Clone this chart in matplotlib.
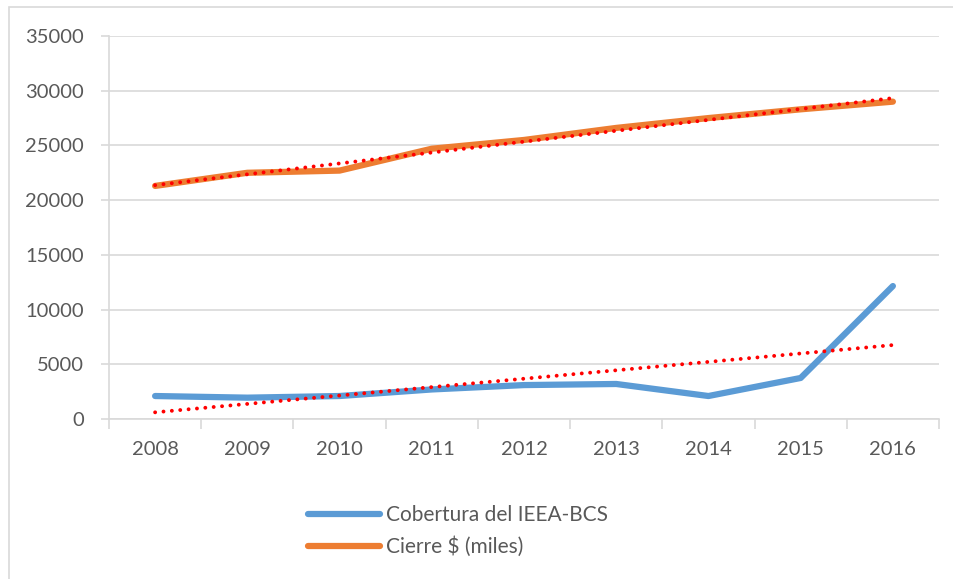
import numpy as np
import matplotlib
matplotlib.use("Agg")
import matplotlib.pyplot as plt
from matplotlib.patches import Rectangle
from matplotlib.ticker import MultipleLocator, FixedLocator

plt.rcParams['font.family'] = ['Lato', 'DejaVu Sans']

years = ['2008', '2009', '2010', '2011', '2012', '2013', '2014', '2015', '2016']
cobertura = [2100, 1950, 2100, 2700, 3100, 3200, 2100, 3750, 12150]
cierre = [21300, 22500, 22700, 24700, 25500, 26600, 27500, 28300, 29000]
series_names = ['Cobertura del IEEA-BCS', 'Cierre $ (miles)']

W, H = 954, 579
fig = plt.figure(figsize=(W / 100, H / 100), dpi=100)
fig.patch.set_facecolor('white')

# chart-area border (runs past the right and bottom edges)
fig.patches.append(Rectangle((9 / W, -0.2), 1.2, 1.2 - 7 / H,
                             transform=fig.transFigure, fill=False,
                             edgecolor='#D9D9D9', linewidth=1.2))

ax = fig.add_axes([109 / W, 1 - 419 / H, (939 - 109) / W, (419 - 36) / H])
x = np.arange(len(years))

grey = '#D9D9D9'
text_col = '#595959'

ax.set_xlim(-0.5, len(years) - 0.5)
ax.set_ylim(0, 35000)
ax.yaxis.set_major_locator(MultipleLocator(5000))
ax.grid(axis='y', color=grey, linewidth=1.2)
ax.set_axisbelow(True)

for s in ['top', 'right']:
    ax.spines[s].set_visible(False)
for s in ['left', 'bottom']:
    ax.spines[s].set_color(grey)
    ax.spines[s].set_linewidth(1.2)

ax.set_xticks(x)
ax.set_xticklabels(years)
ax.xaxis.set_minor_locator(FixedLocator(np.arange(-0.5, len(years), 1.0)))
ax.tick_params(axis='x', which='major', length=0, pad=16, labelsize=14.5, labelcolor=text_col)
ax.tick_params(axis='x', which='minor', length=7, width=1.2, color=grey)
ax.tick_params(axis='y', which='major', length=6, width=1.2, color=grey, pad=12,
               labelsize=14.5, labelcolor=text_col)

blue = '#5B9BD5'
orange = '#ED7D31'

l1, = ax.plot(x, cobertura, color=blue, linewidth=4.5, solid_capstyle='round',
              solid_joinstyle='round', label=series_names[0], zorder=3)
l2, = ax.plot(x, cierre, color=orange, linewidth=4.5, solid_capstyle='round',
              solid_joinstyle='round', label=series_names[1], zorder=3)

# linear trendlines
for vals in (cobertura, cierre):
    k, b = np.polyfit(x, vals, 1)
    ax.plot(x, k * x + b, color='#FF0000', linewidth=2.8,
            linestyle=(0, (0.01, 2.15)), dash_capstyle='round', zorder=4)

leg = fig.legend(handles=[l1, l2], loc='upper left',
                 bbox_to_anchor=(308 / W, 1 - 505 / H), frameon=False,
                 fontsize=15, handlelength=3.45, handletextpad=0.3,
                 labelspacing=0.55, borderpad=0, borderaxespad=0)
for t in leg.get_texts():
    t.set_color(text_col)

fig.savefig('out.png', dpi=100)
